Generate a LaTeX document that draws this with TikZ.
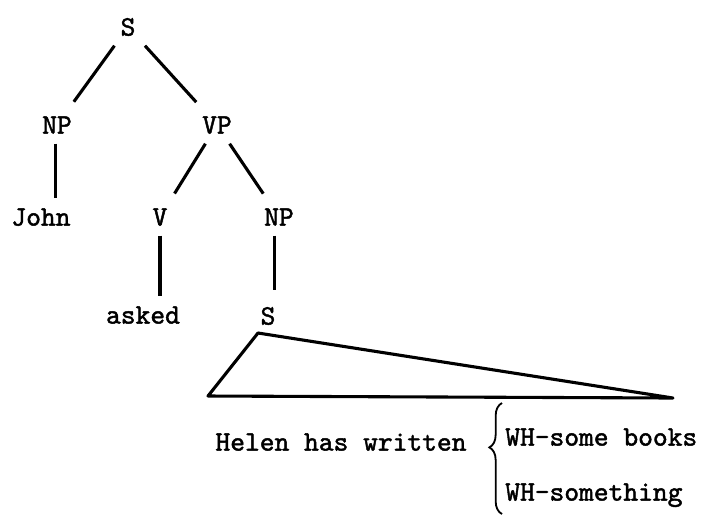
\documentclass[tikz,border=0pt]{standalone}
\usepackage{fontspec}
\newfontfamily\typew{lmmono10-regular}[Extension=.otf, FakeBold=1.6]
\usetikzlibrary{decorations.pathreplacing}

\begin{document}
\begin{tikzpicture}[x=0.025cm, y=-0.025cm, lbl/.style={font=\typew\fontsize{20}{24}\selectfont, text height=12.2pt, text depth=0pt, inner sep=7pt}, edge/.style={line width=2.2pt}, brc/.style={line width=1.3pt, decorate, decoration={brace, amplitude=9pt, aspect=0.6}} ]
		\useasboundingbox (0,0) rectangle (721,516);
		% Upper tree
		\node[lbl] (s) at (128,27) {S};
		\node[lbl] (np) at (57,125) {NP};
		\node[lbl] (vp) at (217,125) {VP};
		\node[lbl] (john) at (41,217) {John};
		\node[lbl] (v) at (160,217) {V};
		\node[lbl] (npb) at (279,217) {NP};
		\node[lbl] (asked) at (143,315) {asked};
		\node[lbl] (sb) at (268,316) {S};
		\draw[edge, shorten >=4pt] (s) -- (np);
		\draw[edge, shorten >=4pt] (s) -- (vp);
		\draw[edge] ([xshift=-1pt]np.south) -- ([xshift=-1pt]np.south |- john.north);
		\draw[edge, shorten >=4pt] (vp) -- (v);
		\draw[edge, shorten >=4pt] (vp) -- (npb);
		\draw[edge] (v) -- (v |- asked.north);
		\draw[edge, shorten >=5pt] ([xshift=-3pt]npb.south) -- ([xshift=-3pt]npb.south |- sb.north);
		% Embedded sentence
		\coordinate (apex) at (258,333);
		\coordinate (tl) at (208,396);
		\coordinate (tr) at (673,398);
		\draw[edge, line join=round] (apex) -- (tl) -- (tr) -- cycle;
		\node[lbl] (helen) at (341,442) {Helen has written};
		\node[lbl, anchor=west, inner xsep=0pt] (wha) at (505,437) {WH-some books};
		\node[lbl, anchor=west, inner xsep=0pt] (whb) at (505,492) {WH-something};
		% Alternatives
		\coordinate (bbot) at (502,514);
		\coordinate (btop) at (502,403);
		\draw[brc] (bbot) -- (btop);
\end{tikzpicture}
\end{document}
